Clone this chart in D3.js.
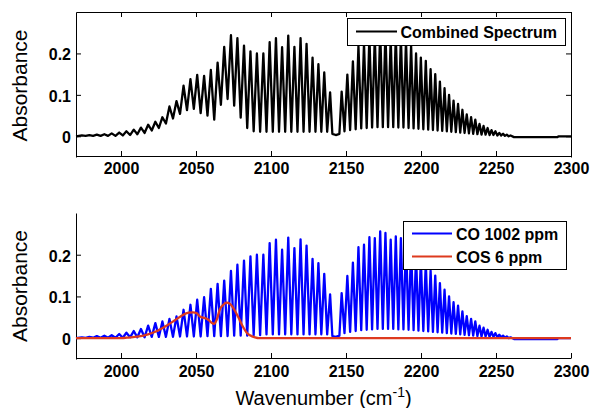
<!DOCTYPE html>
<html>
<head>
<meta charset="utf-8">
<script src="https://cdn.jsdelivr.net/npm/d3@7"></script>
<style>
  html, body { margin: 0; padding: 0; background: #fff; }
  svg { display: block; font-family: "Liberation Sans", Arial, sans-serif; }
</style>
</head>
<body>
<svg id="chart" width="590" height="408"></svg>
<script>
// ---- Axis ticks ----
const xTicks = [2000, 2050, 2100, 2150, 2200, 2250, 2300];
const yTicks = [0, 0.1, 0.2];

// ---- CO fundamental band: line centres (cm-1), P(38) ... P(1) ----
const pLines = [1973.9, 1978.9, 1983.9, 1988.9, 1993.8, 1998.8, 2003.6, 2008.5, 2013.3, 2018.1,
                2022.9, 2027.6, 2032.3, 2037.0, 2041.7, 2046.3, 2050.8, 2055.4, 2059.9, 2064.4,
                2068.8, 2073.3, 2077.6, 2082.0, 2086.3, 2090.6, 2094.9, 2099.1, 2103.3, 2107.4,
                2111.5, 2115.6, 2119.7, 2123.7, 2127.7, 2131.6, 2135.5, 2139.4];
// R(0) ... R(36)
const rLines = [2147.1, 2150.9, 2154.6, 2158.3, 2162.0, 2165.6, 2169.2, 2172.8, 2176.3, 2179.8,
                2183.2, 2186.6, 2190.0, 2193.4, 2196.7, 2199.9, 2203.2, 2206.4, 2209.5, 2212.6,
                2215.7, 2218.7, 2221.7, 2224.7, 2227.6, 2230.5, 2233.4, 2236.2, 2239.0, 2241.7,
                2244.4, 2247.0, 2249.6, 2252.2, 2254.7, 2257.2, 2259.7];

// CO 1002 ppm: peak absorbance of each P line, and the trough after it
const coPPeaks = [0.002, 0.003, 0.005, 0.006, 0.007, 0.010, 0.013, 0.017, 0.022, 0.030,
                  0.036, 0.040, 0.046, 0.052, 0.068, 0.080, 0.092, 0.098, 0.118, 0.130,
                  0.138, 0.161, 0.176, 0.186, 0.196, 0.200, 0.200, 0.228, 0.236, 0.212,
                  0.241, 0.216, 0.237, 0.222, 0.190, 0.180, 0.154, 0.105];
const coPTroughs = [0.0005, 0.001, 0.001, 0.001, 0.001, 0.001, 0.002, 0.002, 0.002, 0.003,
                    0.003, 0.003, 0.003, 0.004, 0.004, 0.004, 0.004, 0.005, 0.005, 0.005,
                    0.005, 0.006, 0.006, 0.006, 0.007, 0.007, 0.009, 0.009, 0.009, 0.009,
                    0.009, 0.009, 0.009, 0.009, 0.009, 0.009, 0.009];

// Combined spectrum (CO + COS) over the P branch
const combinedPPeaks = [0.002, 0.003, 0.004, 0.005, 0.007, 0.009, 0.012, 0.016, 0.021, 0.028,
                        0.035, 0.046, 0.072, 0.085, 0.122, 0.138, 0.148, 0.146, 0.160, 0.178,
                        0.216, 0.244, 0.237, 0.219, 0.205, 0.200, 0.200, 0.227, 0.237, 0.215,
                        0.243, 0.216, 0.237, 0.223, 0.190, 0.174, 0.154, 0.106];
const combinedPTroughs = [0.001, 0.001, 0.001, 0.001, 0.001, 0.002, 0.003, 0.005, 0.008, 0.014,
                          0.020, 0.031, 0.043, 0.054, 0.063, 0.066, 0.056, 0.050, 0.040, 0.076,
                          0.090, 0.074, 0.045, 0.020, 0.012, 0.011, 0.011, 0.011, 0.011, 0.011,
                          0.011, 0.011, 0.011, 0.011, 0.011, 0.011, 0.011];

// Band-centre gap between P(1) and R(0)
const gapWavenumbers = [2140.9, 2143.2, 2145.6];
const coGap = [0.005, 0.003, 0.006];
const combinedGap = [0.006, 0.003, 0.006];

// R branch (COS does not absorb here, so both traces share it)
const rPeaks = [0.108, 0.149, 0.181, 0.218, 0.224, 0.242, 0.240, 0.256, 0.252, 0.236,
                0.244, 0.240, 0.232, 0.220, 0.200, 0.190, 0.182, 0.162, 0.150, 0.132,
                0.116, 0.100, 0.086, 0.078, 0.064, 0.053, 0.046, 0.040, 0.030, 0.025,
                0.020, 0.015, 0.012, 0.008, 0.006, 0.004, 0.002];
const rTroughs = [0.012, 0.015, 0.017, 0.019, 0.020, 0.021, 0.022, 0.022, 0.022, 0.022,
                  0.021, 0.021, 0.020, 0.019, 0.018, 0.017, 0.016, 0.015, 0.014, 0.013,
                  0.012, 0.011, 0.010, 0.009, 0.008, 0.007, 0.006, 0.005, 0.004, 0.004,
                  0.003, 0.003, 0.002, 0.002, 0.001, 0.000];

// Flat baseline before the first line and after the last one
const headWavenumbers = [1970];
const headValues = [0];
const tailWavenumbers = [2262, 2291, 2291.6, 2300];
const tailValues = [-0.002, -0.002, 0, 0];

// COS 6 ppm (unresolved band)
const cosWavenumbers = [1970, 2000, 2006, 2012, 2018, 2024, 2030, 2036, 2041, 2045,
                        2048, 2050.4, 2052.6, 2056.0, 2058.2, 2060.4, 2062.0, 2063.8, 2066.0, 2068.2,
                        2070.4, 2072.7, 2074.9, 2077.1, 2079.3, 2081.5, 2083.8, 2086.0, 2089.3, 2092,
                        2300];
const cosValues = [0, 0, 0.002, 0.004, 0.009, 0.017, 0.029, 0.043, 0.055, 0.061,
                   0.062, 0.060, 0.052, 0.048, 0.044, 0.037, 0.034, 0.044, 0.070, 0.080,
                   0.085, 0.082, 0.072, 0.058, 0.042, 0.026, 0.013, 0.007, 0.002, 0,
                   0];

// Walk through the line list: peak, trough, peak, trough ...
function spectrum(pPk, pTr, gap) {
  const pts = headWavenumbers.map((w, i) => [w, headValues[i]]);
  pLines.forEach((w, i) => {
    pts.push([w, pPk[i]]);
    if (i < pLines.length - 1) pts.push([(w + pLines[i + 1]) / 2, pTr[i]]);
  });
  gapWavenumbers.forEach((w, i) => pts.push([w, gap[i]]));
  rLines.forEach((w, i) => {
    pts.push([w, rPeaks[i]]);
    if (i < rLines.length - 1) pts.push([(w + rLines[i + 1]) / 2, rTroughs[i]]);
  });
  tailWavenumbers.forEach((w, i) => pts.push([w, tailValues[i]]));
  return pts;
}

const combined = spectrum(combinedPPeaks, combinedPTroughs, combinedGap);
const co = spectrum(coPPeaks, coPTroughs, coGap);
const cos = cosWavenumbers.map((w, i) => [w, cosValues[i]]);

// ---- Layout ----
const svg = d3.select("#chart");
const FONT = '"Liberation Sans", Arial, sans-serif';
const x = d3.scaleLinear().domain([1970, 2300]).range([76, 571]);
const yTop = d3.scaleLinear().domain([-0.05, 0.3]).range([157, 12]);
const yBot = d3.scaleLinear().domain([-0.05, 0.3]).range([359, 213]);

function styleAxis(g) {
  g.attr("font-family", null).attr("font-size", null);
  g.selectAll("path, line").attr("stroke", "#000").attr("stroke-width", 1);
  g.selectAll("text")
    .attr("fill", "#000")
    .style("font-family", FONT)
    .style("font-size", "16px")
    .style("font-weight", "bold");
}

const fmtY = d3.format("~g");
const fmtX = d3.format("d");

// Top panel: full box with inward ticks
svg.append("g").attr("transform", "translate(0,156)")
  .call(d3.axisBottom(x).tickValues(xTicks).tickSizeInner(-5).tickSizeOuter(0).tickPadding(7).tickFormat(fmtX))
  .call(styleAxis);
svg.append("g").attr("transform", "translate(0,12)")
  .call(d3.axisTop(x).tickValues(xTicks).tickSizeInner(-5).tickSizeOuter(0).tickFormat(""))
  .call(styleAxis);
svg.append("g").attr("transform", "translate(76,0)")
  .call(d3.axisLeft(yTop).tickValues(yTicks).tickSizeInner(-5).tickSizeOuter(0).tickPadding(5).tickFormat(fmtY))
  .call(styleAxis)
  .selectAll("text").attr("dy", "0.4em");
svg.append("g").attr("transform", "translate(571,0)")
  .call(d3.axisRight(yTop).tickValues(yTicks).tickSizeInner(-5).tickSizeOuter(0).tickFormat(""))
  .call(styleAxis);

// Bottom panel: left and bottom axes only
svg.append("g").attr("transform", "translate(0,358)")
  .call(d3.axisBottom(x).tickValues(xTicks).tickSizeInner(-5).tickSizeOuter(0).tickPadding(8).tickFormat(fmtX))
  .call(styleAxis);
svg.append("g").attr("transform", "translate(76,0)")
  .call(d3.axisLeft(yBot).tickValues(yTicks).tickSizeInner(-5).tickSizeOuter(0).tickPadding(5).tickFormat(fmtY))
  .call(styleAxis)
  .selectAll("text").attr("dy", "0.4em");

// ---- Traces ----
const lineTop = d3.line().x(d => x(d[0])).y(d => yTop(d[1]));
const lineBot = d3.line().x(d => x(d[0])).y(d => yBot(d[1]));
const lineBotSmooth = d3.line().x(d => x(d[0])).y(d => yBot(d[1])).curve(d3.curveMonotoneX);

svg.append("path").datum(combined).attr("d", lineTop)
  .attr("fill", "none").attr("stroke", "#000").attr("stroke-width", 2.3).attr("stroke-linejoin", "round");
svg.append("path").datum(co).attr("d", lineBot)
  .attr("fill", "none").attr("stroke", "#0000ff").attr("stroke-width", 2.3).attr("stroke-linejoin", "round");
svg.append("path").datum(cos).attr("d", lineBotSmooth)
  .attr("fill", "none").attr("stroke", "#dd3a1e").attr("stroke-width", 2.3).attr("stroke-linejoin", "round");

// ---- Axis titles ----
function yTitle(cy) {
  svg.append("text")
    .attr("transform", `translate(27,${cy}) rotate(-90)`)
    .attr("text-anchor", "middle")
    .style("font-family", FONT).style("font-size", "21px").attr("fill", "#000")
    .text("Absorbance");
}
yTitle(85.5);
yTitle(286);

const xt = svg.append("text")
  .attr("x", 323.5).attr("y", 405)
  .attr("text-anchor", "middle")
  .style("font-family", FONT).style("font-size", "20px").attr("fill", "#000");
xt.append("tspan").text("Wavenumber (cm");
xt.append("tspan").attr("dy", -8).style("font-size", "14px").text("-1");
xt.append("tspan").attr("dy", 8).text(")");

// ---- Legends ----
function legend(box, rows) {
  const g = svg.append("g");
  g.append("rect").attr("x", box.x + 0.5).attr("y", box.y + 0.5)
    .attr("width", box.w).attr("height", box.h)
    .attr("fill", "#fff").attr("stroke", "#000").attr("stroke-width", 1);
  rows.forEach(r => {
    g.append("line").attr("x1", box.lx0).attr("x2", box.lx1)
      .attr("y1", r.y).attr("y2", r.y)
      .attr("stroke", r.color).attr("stroke-width", 2);
    g.append("text").attr("x", box.tx).attr("y", r.y + 6)
      .style("font-family", FONT).style("font-size", "16px").style("font-weight", "bold")
      .attr("fill", "#000").text(r.label);
  });
}
legend({ x: 347, y: 18, w: 218, h: 27, lx0: 356, lx1: 397, tx: 400.5 },
       [{ y: 31.5, color: "#000", label: "Combined Spectrum" }]);
legend({ x: 403, y: 221, w: 163, h: 48, lx0: 412, lx1: 452, tx: 456 },
       [{ y: 233.5, color: "#0000ff", label: "CO 1002 ppm" },
        { y: 256.5, color: "#dd3a1e", label: "COS 6 ppm" }]);
</script>
</body>
</html>
